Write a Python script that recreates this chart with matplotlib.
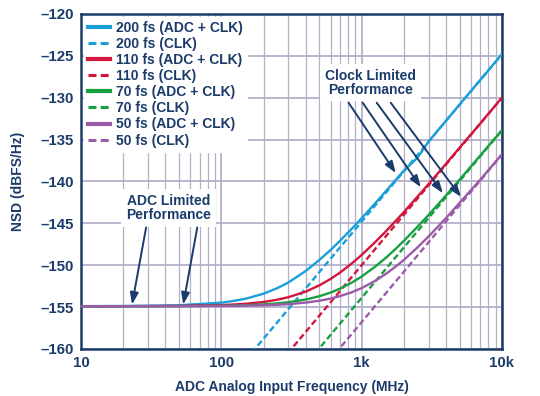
import matplotlib
matplotlib.use('Agg')
import matplotlib.pyplot as plt
from matplotlib.ticker import FuncFormatter, FixedLocator

plt.rcParams['font.family'] = ['Liberation Sans', 'DejaVu Sans']

# Datos (frecuencia en MHz, NSD en dBFS/Hz)
freq = [10, 20, 50, 100, 120, 150, 200, 250, 300, 400, 500, 600, 700, 850,
        1000, 1250, 1500, 1750, 2000, 2500, 3000, 4000, 5000, 7000, 10000]

nsd_200 = [-154.9, -154.88, -154.79, -154.48, -154.3, -154.0, -153.41, -152.75, -152.08,
           -150.69, -149.37, -148.2, -147.09, -145.66, -144.4, -142.6, -141.1, -139.81,
           -138.7, -137.17, -135.23, -132.73, -130.79, -127.89, -124.8]
nsd_110 = [-154.9, -154.9, -154.87, -154.77, -154.71, -154.61, -154.4, -154.13, -153.83,
           -153.16, -152.41, -151.65, -150.9, -149.8, -148.78, -147.24, -145.9, -144.7,
           -143.66, -141.82, -140.31, -137.88, -135.95, -133.08, -129.99]
nsd_70 = [-154.9, -154.9, -154.89, -154.85, -154.83, -154.78, -154.69, -154.57, -154.43,
          -154.1, -153.71, -153.28, -152.81, -152.09, -151.36, -150.17, -149.07, -148.04,
          -147.09, -145.42, -144.0, -141.66, -139.77, -136.91, -133.87]
nsd_50 = [-154.9, -154.9, -154.9, -154.87, -154.86, -154.83, -154.79, -154.73, -154.66,
          -154.47, -154.25, -153.99, -153.7, -153.24, -152.74, -151.87, -151.0, -150.16,
          -149.37, -147.88, -146.57, -144.36, -142.54, -139.8, -136.75]

# Lineas limitadas por reloj (rectas en escala log)
freq_clk = [100, 10000]
clk_200 = [-164.8, -124.8]
clk_110 = [-170.0, -130.0]
clk_70 = [-173.9, -133.9]
clk_50 = [-176.8, -136.8]

etiquetas = ['200 fs', '110 fs', '70 fs', '50 fs']
colores = ['#1a9fd8', '#d3163d', '#17a040', '#9b5ba8']

navy = '#1b3c6b'
grid_col = '#b3b1c9'

fig = plt.figure(figsize=(5.4, 3.96), dpi=100)
ax = fig.add_axes([0.15, 0.119, 0.7796, 0.8457])

handles = []
for lab, col, ys, yc in zip(etiquetas, colores,
                            [nsd_200, nsd_110, nsd_70, nsd_50],
                            [clk_200, clk_110, clk_70, clk_50]):
    h1, = ax.plot(freq, ys, color=col, lw=1.7, label=lab + ' (ADC + CLK)', zorder=3)
    h2, = ax.plot(freq_clk, yc, color=col, lw=1.7, ls=(0, (2.6, 1.4)), label=lab + ' (CLK)', zorder=3)
    handles += [h1, h2]

ax.set_xscale('log')
ax.set_xlim(10, 10000)
ax.set_ylim(-160, -120)
ax.yaxis.set_major_locator(FixedLocator([-160, -155, -150, -145, -140, -135, -130, -125, -120]))
ax.yaxis.set_major_formatter(FuncFormatter(lambda v, p: ('\u2013%d' % abs(v)) if v < 0 else '%d' % v))
ax.xaxis.set_major_formatter(FuncFormatter(
    lambda v, p: '%dk' % round(v / 1000) if v >= 1000 else '%d' % round(v)))
ax.xaxis.set_minor_formatter(FuncFormatter(lambda v, p: ''))

ax.grid(True, which='major', color=grid_col, lw=1.3, zorder=0)
ax.grid(True, which='minor', axis='x', color=grid_col, lw=0.9, zorder=0)
ax.set_axisbelow(True)

for s in ax.spines.values():
    s.set_color(navy)
    s.set_linewidth(1.8)
ax.tick_params(which='both', length=0, colors=navy, labelsize=10.8, pad=5)
for t in ax.get_xticklabels() + ax.get_yticklabels():
    t.set_fontweight('bold')

ax.set_xlabel('ADC Analog Input Frequency (MHz)', color=navy, fontsize=10, fontweight='bold', labelpad=7)
ax.set_ylabel('NSD (dBFS/Hz)', color=navy, fontsize=10, fontweight='bold', labelpad=11)

leg = ax.legend(handles=handles, loc='upper left', frameon=True, fancybox=False,
                handlelength=1.6, handletextpad=0.4, labelspacing=0.15, borderpad=0.3,
                borderaxespad=0.2, prop={'weight': 'bold', 'size': 10})
leg.get_frame().set_facecolor('white')
leg.get_frame().set_edgecolor('white')
leg.get_frame().set_alpha(1)
leg.set_zorder(5)
for t in leg.get_texts():
    t.set_color(navy)
for i, l in enumerate(leg.get_lines()):
    l.set_linewidth(3 if i % 2 == 0 else 2.2)

# Anotaciones
caja = dict(boxstyle='square,pad=0.35', fc='white', ec='none')
flecha = dict(arrowstyle='-|>,head_length=0.7,head_width=0.25', color=navy, lw=1.4, shrinkA=0, shrinkB=0)

ax.text(1160, -128.2, 'Clock Limited\nPerformance', ha='center', va='center', color=navy,
        fontsize=10, fontweight='bold', bbox=caja, zorder=4, linespacing=1.0)
for x0, x1, y1 in zip([807, 1017, 1280, 1611], [1750, 2640, 3790, 5100], [-139.0, -140.7, -141.4, -141.85]):
    ax.annotate('', xy=(x1, y1), xytext=(x0, -130.6), arrowprops=flecha, zorder=6)

ax.text(42, -143.2, 'ADC Limited\nPerformance', ha='center', va='center', color=navy,
        fontsize=10, fontweight='bold', bbox=caja, zorder=4, linespacing=1.0)
for x0, x1 in zip([29.1, 67.4], [23.1, 53.5]):
    ax.annotate('', xy=(x1, -154.7), xytext=(x0, -145.5), arrowprops=flecha, zorder=6)

plt.savefig('out.png', dpi=100)
